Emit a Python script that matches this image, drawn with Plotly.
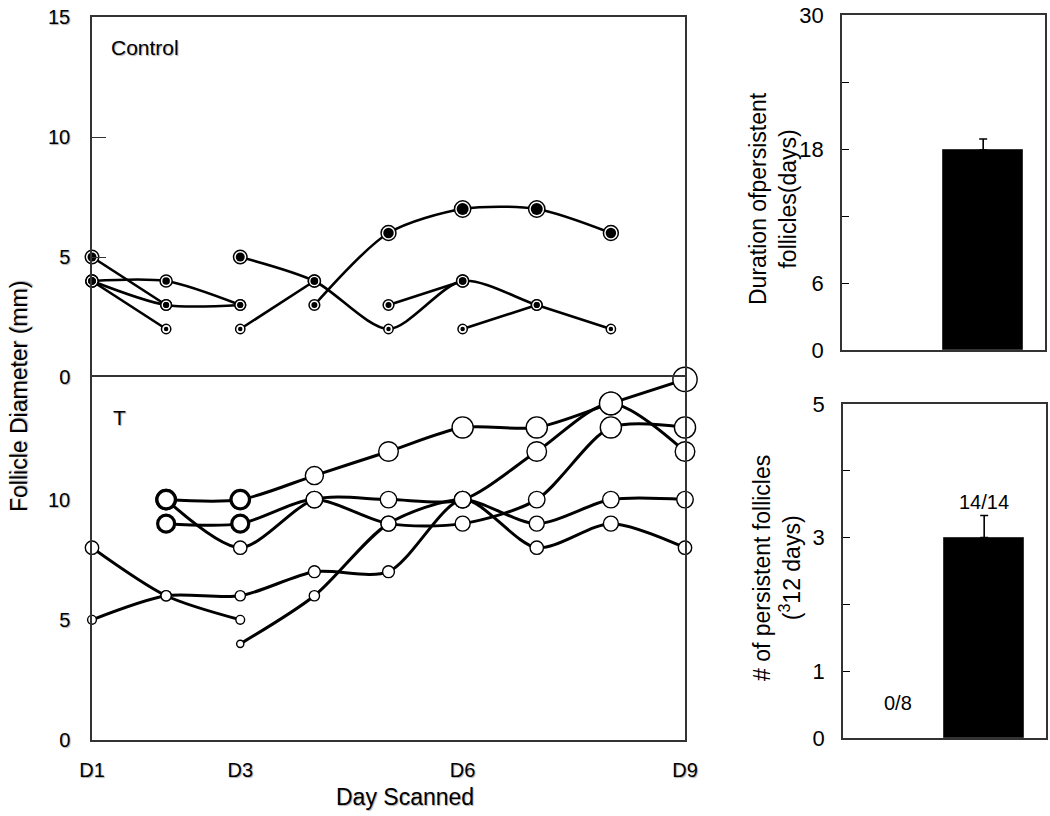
import plotly.graph_objects as go

W, H = 1050, 816

# ---------------- data ----------------
day_tickvals = [1, 3, 6, 9]
day_ticktext = ["D1", "D3", "D6", "D9"]

# Control follicles: day scanned / diameter (mm)
c1_day = [1, 2];             c1_mm = [5, 3]
c2_day = [1, 2, 3];          c2_mm = [4, 4, 3]
c3_day = [1, 2, 3];          c3_mm = [4, 3, 3]
c4_day = [1, 2];             c4_mm = [4, 2]
c5_day = [3, 4, 5, 6, 7, 8]; c5_mm = [5, 4, 2, 4, 3, 2]
c6_day = [3, 4];             c6_mm = [2, 4]
c7_day = [4, 5, 6, 7, 8];    c7_mm = [3, 6, 7, 7, 6]
c8_day = [5, 6];             c8_mm = [3, 4]
c9_day = [6, 7];             c9_mm = [2, 3]

# T-treated follicles
t1_day = [2, 3, 4, 5, 6, 7, 8, 9];    t1_mm = [10, 10, 11, 12, 13, 13, 14, 15]
t2_day = [2, 3, 4, 5, 6, 7, 8, 9];    t2_mm = [10, 8, 10, 10, 10, 12, 14, 12]
t3_day = [2, 3, 4, 5, 6, 7, 8, 9];    t3_mm = [9, 9, 10, 9, 9, 10, 13, 13]
t4_day = [3, 4, 5, 6, 7, 8, 9];       t4_mm = [4, 6, 9, 10, 9, 10, 10]
t5_day = [1, 2, 3, 4, 5, 6, 7, 8, 9]; t5_mm = [5, 6, 6, 7, 7, 10, 8, 9, 8]
t6_day = [1, 2, 3];                   t6_mm = [8, 6, 5]

diam_ticks = [0, 5, 10, 15]

# Bar panels
groups = ["Control", "T"]
duration_days = [0, 17.9]
duration_err = [0, 1.0]
duration_labeled_ticks = [0, 6, 18, 30]
duration_minor_ticks = [12, 24]

persistent_n = [0, 3.0]
persistent_err = [0, 0.33]
persistent_ratio = ["0/8", "14/14"]
persistent_labeled_ticks = [0, 1, 3, 5]
persistent_minor_ticks = [2, 4]

control = [(c1_day, c1_mm), (c2_day, c2_mm), (c3_day, c3_mm), (c4_day, c4_mm),
           (c5_day, c5_mm), (c6_day, c6_mm), (c7_day, c7_mm), (c8_day, c8_mm),
           (c9_day, c9_mm)]
treated = [(t1_day, t1_mm), (t2_day, t2_mm), (t3_day, t3_mm), (t4_day, t4_mm),
           (t5_day, t5_mm), (t6_day, t6_mm)]

# ---------------- figure ----------------
FONT = "Liberation Sans, Arial, sans-serif"
SHADOW = "1px 1px 1px #b0b0b0"
fig = go.Figure()


def px_x(p):
    return p / W


def px_y(p):
    return 1 - p / H


# Control lines
for d, m in control:
    fig.add_trace(go.Scatter(x=d, y=m, mode="lines", xaxis="x2", yaxis="y2",
                             line=dict(color="black", width=2.6, shape="spline", smoothing=0.8),
                             hoverinfo="skip", showlegend=False, cliponaxis=False))
cx = [v for d, m in control for v in d]
cy = [v for d, m in control for v in m]
fig.add_trace(go.Scatter(x=cx, y=cy, mode="markers", xaxis="x2", yaxis="y2",
                         marker=dict(symbol="circle", color="white", opacity=1,
                                     size=[1.4 * v + 6.5 for v in cy],
                                     line=dict(color="black", width=1.5)),
                         showlegend=False, cliponaxis=False))
fig.add_trace(go.Scatter(x=cx, y=cy, mode="markers", xaxis="x2", yaxis="y2",
                         marker=dict(symbol="circle", color="black", opacity=1,
                                     size=[1.5 * v + 1.5 for v in cy],
                                     line=dict(width=0)),
                         showlegend=False, cliponaxis=False))

# T lines
for d, m in treated:
    fig.add_trace(go.Scatter(x=d, y=m, mode="lines", xaxis="x", yaxis="y",
                             line=dict(color="black", width=3, shape="spline", smoothing=0.8),
                             hoverinfo="skip", showlegend=False, cliponaxis=False))
tx = [v for d, m in treated for v in d]
ty = [v for d, m in treated for v in m]
fig.add_trace(go.Scatter(x=tx, y=ty, mode="markers", xaxis="x", yaxis="y",
                         marker=dict(symbol="circle", color="white", opacity=1,
                                     size=[1.55 * v + 1 + (2 if (a <= 3 and b >= 9) else 0)
                                           for a, b, v in zip(tx, ty, ty)],
                                     line=dict(color="black",
                                               width=[3.2 if (a <= 3 and b >= 9) else 1.4
                                                      for a, b in zip(tx, ty)])),
                         showlegend=False, cliponaxis=False))


def nonzero(vals):
    # a zero-height bar (and its error bar) is not drawn at all
    return [v if v > 0 else None for v in vals]


# Bars
fig.add_trace(go.Bar(x=groups, y=nonzero(duration_days), xaxis="x3", yaxis="y3", width=0.93,
                     marker=dict(color="black", line=dict(color="#333", width=1)),
                     error_y=dict(type="data", symmetric=False, array=duration_err,
                                  arrayminus=[0, 0], color="black", thickness=1.6, width=4),
                     showlegend=False))
fig.add_trace(go.Bar(x=groups, y=nonzero(persistent_n), xaxis="x4", yaxis="y4", width=0.93,
                     marker=dict(color="black", line=dict(color="#333", width=1)),
                     error_y=dict(type="data", symmetric=False, array=persistent_err,
                                  arrayminus=[0, 0], color="black", thickness=1.6, width=4),
                     showlegend=False))

axis_line = dict(showline=True, linecolor="#333", linewidth=1.5,
                 showgrid=False, zeroline=False, automargin=False)

main_dom = [px_x(92), px_x(685)]
fig.update_layout(
    width=W, height=H, autosize=False,
    margin=dict(l=0, r=0, t=0, b=0, pad=0),
    paper_bgcolor="white", plot_bgcolor="white",
    font=dict(family=FONT, color="black"),
    bargap=0,
    # T panel
    xaxis=dict(domain=main_dom, range=[1, 9], anchor="y", tickvals=day_tickvals,
               ticktext=day_ticktext, ticks="", ticklabelstandoff=11, mirror=True,
               ticklabeloverflow="allow",
               tickfont=dict(size=20, family=FONT, shadow=SHADOW), **axis_line),
    yaxis=dict(domain=[px_y(740), px_y(377)], range=[0, 15.1], anchor="x",
               tickvals=[0, 5, 10], ticks="", ticklabelstandoff=16, mirror=True,
               ticklabeloverflow="allow",
               tickfont=dict(size=20, family=FONT, shadow=SHADOW), **axis_line),
    # Control panel (only its top border; the shared middle line comes from the T panel)
    xaxis2=dict(domain=main_dom, range=[1, 9], anchor="y2", side="top", mirror=False,
                showticklabels=False, ticks="", **axis_line),
    yaxis2=dict(domain=[px_y(377), px_y(17)], range=[0, 15], anchor="x2",
                tickvals=diam_ticks, ticks="inside", ticklen=14, tickwidth=1.3,
                tickcolor="#333", ticklabelstandoff=16, mirror=True,
                ticklabeloverflow="allow",
                tickfont=dict(size=20, family=FONT, shadow=SHADOW), **axis_line),
    # duration panel
    xaxis3=dict(domain=[px_x(842), px_x(1045)], range=[-0.635, 1.716], anchor="y3",
                showticklabels=False, ticks="", type="category", mirror=True, **axis_line),
    yaxis3=dict(domain=[px_y(350), px_y(15)], range=[0, 30], anchor="x3",
                tickvals=duration_labeled_ticks, mirror=True,
                ticks="inside", ticklen=7, tickwidth=1.3, tickcolor="black",
                minor=dict(tickvals=duration_minor_ticks, ticks="inside", ticklen=7,
                           tickwidth=1.3, tickcolor="black", showgrid=False),
                ticklabeloverflow="allow",
                ticklabelstandoff=12, tickfont=dict(size=22, family=FONT), **axis_line),
    # persistent panel
    xaxis4=dict(domain=[px_x(843), px_x(1046)], range=[-0.635, 1.716], anchor="y4",
                showticklabels=False, ticks="", type="category", mirror=True, **axis_line),
    yaxis4=dict(domain=[px_y(738), px_y(404)], range=[0, 5], anchor="x4",
                tickvals=persistent_labeled_ticks, mirror=True,
                ticks="inside", ticklen=7, tickwidth=1.3, tickcolor="black",
                minor=dict(tickvals=persistent_minor_ticks, ticks="inside", ticklen=7,
                           tickwidth=1.3, tickcolor="black", showgrid=False),
                ticklabeloverflow="allow",
                ticklabelstandoff=12, tickfont=dict(size=22, family=FONT), **axis_line),
)

ann = []
ann.append(dict(text="Control", xref="paper", yref="paper", x=px_x(109), y=px_y(47),
                xanchor="left", yanchor="middle", showarrow=False,
                font=dict(size=21, family=FONT, shadow=SHADOW)))
ann.append(dict(text="T", xref="paper", yref="paper", x=px_x(111), y=px_y(418),
                xanchor="left", yanchor="middle", showarrow=False,
                font=dict(size=21, family=FONT, shadow=SHADOW)))
ann.append(dict(text="Follicle Diameter (mm)", xref="paper", yref="paper",
                x=px_x(19), y=px_y(397), textangle=-90, xanchor="center", yanchor="middle",
                showarrow=False, font=dict(size=23, family=FONT, shadow=SHADOW)))
ann.append(dict(text="Day Scanned", xref="paper", yref="paper",
                x=px_x(405), y=px_y(797), xanchor="center", yanchor="middle",
                showarrow=False, font=dict(size=23, family=FONT, shadow=SHADOW)))
ann.append(dict(text="Duration ofpersistent<br>follicles(days)", xref="paper", yref="paper",
                x=px_x(773), y=px_y(199), textangle=-90, xanchor="center", yanchor="middle",
                showarrow=False, font=dict(size=23, family=FONT)))
ann.append(dict(text="# of persistent follicles<br>(<sup>3</sup>12 days)", xref="paper",
                yref="paper", x=px_x(777), y=px_y(568), textangle=-90, xanchor="center",
                yanchor="middle", showarrow=False, font=dict(size=23, family=FONT)))
for g, v, e, lab in zip(groups, persistent_n, persistent_err, persistent_ratio):
    if v > 0:
        ann.append(dict(text=lab, xref="x4", yref="y4", x=g, y=v + e, yanchor="bottom",
                        yshift=1, showarrow=False, font=dict(size=20, family=FONT)))
    else:
        ann.append(dict(text=lab, xref="x4", yref="y4", x=g, y=0, yanchor="bottom",
                        yshift=22, showarrow=False, font=dict(size=20, family=FONT)))
fig.update_layout(annotations=ann)

# remove the browser's default 8px page margin so the figure fills the window exactly
fig.write_html("out.html", config={"displayModeBar": False},
               post_script="document.body.style.margin='0';document.body.style.overflow='hidden';")
